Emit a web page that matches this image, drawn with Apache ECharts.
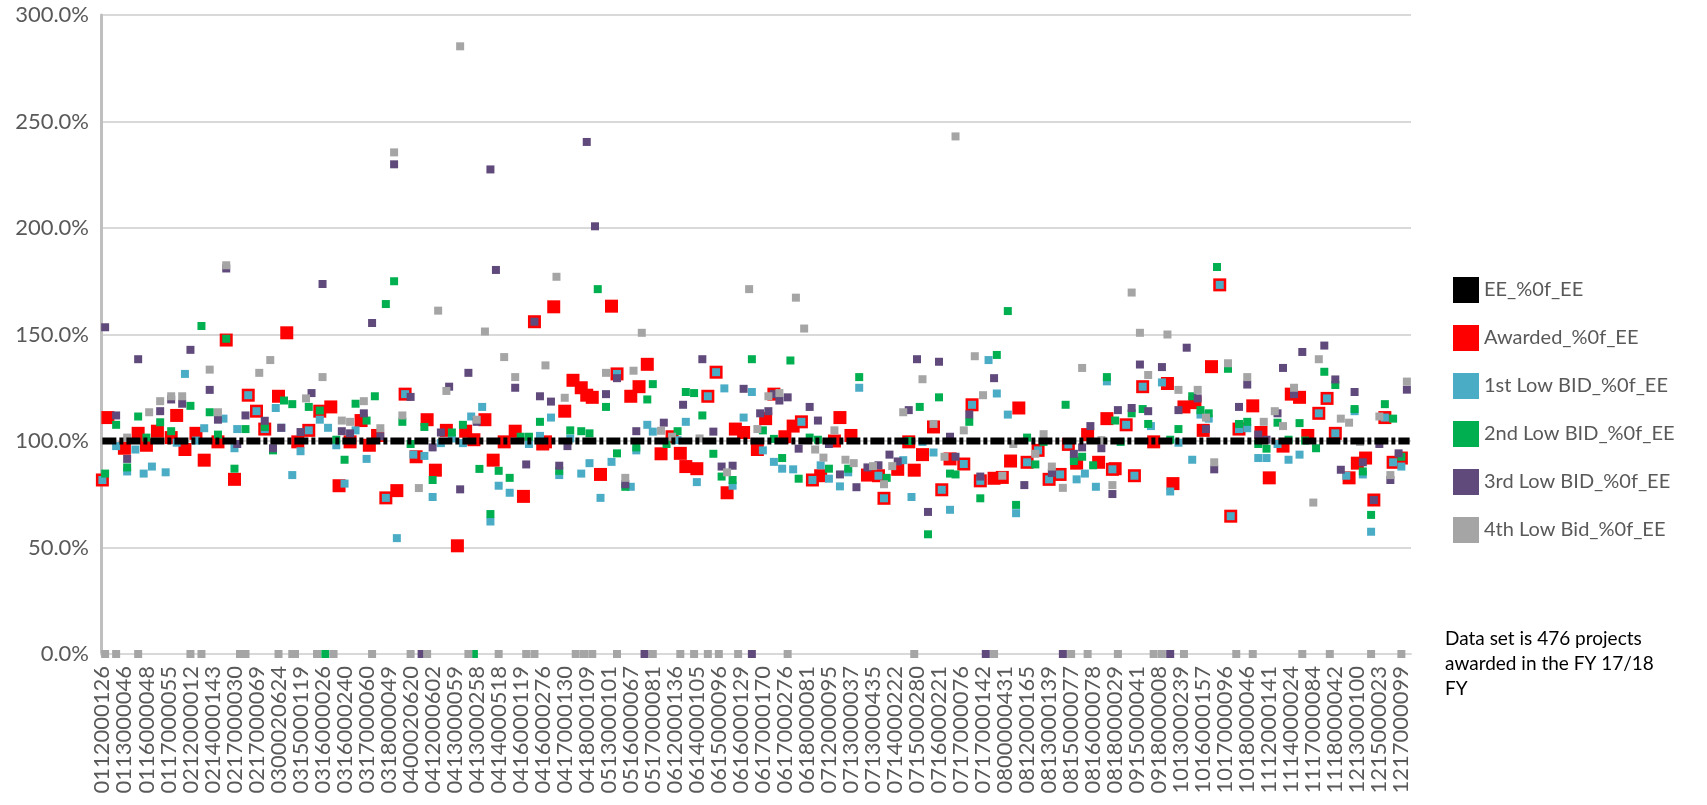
<!DOCTYPE html>
<html>
<head>
<meta charset="utf-8">
<script src="https://cdn.jsdelivr.net/npm/echarts@6/dist/echarts.min.js"></script>
<style>
  html, body { margin: 0; padding: 0; background: #fff; }
  #main { width: 1707px; height: 805px; }
</style>
</head>
<body>
<div id="main"></div>
<script>
// 476 projects, one label shown every 8th project
var projectCount = 476;
var tickLabels = [
  '0112000126', '0113000046', '0116000048', '0117000055', '0212000012', '0214000143',
  '0217000030', '0217000069', '0300020624', '0315000119', '0316000026', '0316000240',
  '0317000060', '0318000049', '0400020620', '0412000602', '0413000059', '0413000258',
  '0414000518', '0416000119', '0416000276', '0417000130', '0418000109', '0513000101',
  '0516000067', '0517000081', '0612000136', '0614000105', '0615000096', '0616000129',
  '0617000170', '0617000276', '0618000081', '0712000095', '0713000037', '0713000435',
  '0714000222', '0715000280', '0716000221', '0717000076', '0717000142', '0800000431',
  '0812000165', '0813000139', '0815000077', '0816000078', '0818000029', '0915000041',
  '0918000008', '1013000239', '1016000157', '1017000096', '1018000046', '1112000141',
  '1114000024', '1117000084', '1118000042', '1213000100', '1215000023', '1217000099'
];

// [project index, % of EE]
var awarded = [
  [0,81.7],[2,111],[8,96.6],[13,103.6],[16,98],[20,104.6],[25,101.6],[27,112],[30,96],[34,103.6],
  [37,91],[42,99.6],[45,147.4],[48,82],[53,121.5],[56,114],[59,105.6],[64,121],[67,150.8],[71,99.6],
  [75,105],[79,114],[83,116],[86,79],[90,99.6],[94,109.6],[97,98],[100,102.6],[103,73.3],[107,76.7],
  [110,122],[114,92.6],[118,110],[121,86.3],[125,105],[129,50.8],[132,104.6],[135,100.6],[139,110],[142,91],
  [146,99.6],[150,104.6],[153,74],[157,156],[160,98.6],[161,99.6],[164,163],[168,114],[171,128.5],[174,125],
  [176,121.5],[178,120.5],[181,84.3],[185,163.3],[187,131.5],[192,121],[195,125.5],[198,136],[203,94],[207,102],
  [210,94.2],[212,88],[216,87],[220,121],[223,132.3],[227,75.7],[230,105.6],[233,104],[238,96],[241,110.5],
  [244,122],[248,102],[251,107],[254,109],[258,81.7],[261,83.7],[266,100],[268,111],[272,102.6],[278,84],
  [282,83.7],[284,73.1],[289,86.7],[293,99.6],[295,86.3],[298,93.6],[302,106.6],[305,77.1],[308,91.6],[313,89.2],
  [316,117],[319,81.3],[324,82.5],[327,82.9],[330,90.6],[333,115.5],[336,90],[340,95.6],[344,82],[348,84.3],
  [351,98.4],[354,89.6],[358,103],[362,90],[365,110.5],[367,86.7],[368,87],[372,107.6],[375,83.7],[378,125.5],
  [382,99.6],[387,127],[389,80],[393,116],[397,118],[400,105],[403,134.9],[406,173.3],[410,64.7],[413,105.6],
  [418,116.5],[421,104],[424,82.7],[429,97.6],[432,122],[435,120.5],[438,102.6],[442,113],[445,120],[448,103.6],
  [453,82.7],[456,89.6],[459,92],[462,72.3],[466,111],[469,90],[472,92]
];

var lowBid1 = [
  [0,81.7],[5,97.6],[9,85.7],[12,96],[15,84.7],[18,88],[23,85.3],[27,99.2],[30,131.5],[34,100.2],
  [37,106],[44,110.5],[48,96.6],[49,105.6],[53,121.5],[56,114],[59,105.6],[63,115.5],[65,106.2],[69,84],
  [72,95.2],[75,105],[79,110],[82,106.2],[85,98],[88,80],[92,105],[96,91.6],[103,73.3],[107,54.4],
  [110,122],[113,93.6],[117,93],[120,73.7],[123,99],[127,101.2],[131,99],[134,111.5],[138,116],[141,62.2],
  [144,79],[148,75.7],[155,98.6],[159,102.4],[163,111],[166,84],[170,101.2],[174,84.7],[177,89.6],[181,73.3],
  [185,90.2],[187,131.5],[192,78.5],[194,95.6],[198,107.6],[200,104.4],[209,100.4],[212,109],[216,80.7],[220,121],
  [223,132.3],[226,124.7],[229,79],[233,111],[236,123],[240,95.6],[244,90.2],[247,87],[251,86.7],[254,109],
  [258,81.7],[261,88.6],[264,82.3],[268,78.7],[271,85.3],[275,125],[282,83.7],[284,73.1],[291,91],[294,73.7],
  [298,99.6],[302,94.6],[305,77.1],[308,67.7],[313,89.2],[316,117],[319,81.3],[322,138],[325,122.3],[329,112.4],
  [332,66.1],[336,90],[340,95.6],[344,82],[348,84.3],[351,98.4],[354,82],[357,84.7],[361,78.5],[365,128],
  [367,86.7],[372,107.6],[375,83.7],[378,125.5],[381,107],[385,127.5],[388,76.3],[391,99.2],[396,91.2],[399,112.4],
  [402,110.5],[406,173.3],[410,64.7],[413,105.6],[416,106],[420,92],[423,92],[427,98.6],[431,91.2],[435,93.6],
  [442,113],[445,120],[448,103.6],[452,83.7],[455,114],[458,84.3],[461,57.4],[466,111],[469,90],[472,88]
];

var lowBid2 = [
  [1,84.7],[5,107.6],[9,87.6],[13,111.5],[16,101.6],[21,108.8],[25,104.6],[32,116.5],[36,154],[39,113.5],
  [42,103],[45,148],[48,87],[52,105.6],[59,106.6],[62,95.6],[66,119],[69,117.3],[75,116],[79,114.3],
  [81,0],[85,100.6],[88,91.2],[92,117.5],[96,109.6],[99,121],[103,164.3],[106,175],[109,109],[112,98.6],
  [117,106.6],[120,81.7],[127,104],[131,107.6],[135,0],[137,86.9],[141,65.7],[144,86],[148,82.7],[152,102],
  [155,102],[159,109],[166,86],[170,105],[174,104.6],[177,103.6],[180,171.3],[183,116],[187,94.2],[190,78.5],
  [194,97],[198,119.5],[200,126.7],[205,98.6],[209,104.6],[212,123],[215,122.5],[218,112],[222,94],[225,83.3],
  [229,81.7],[236,138.4],[240,105],[244,101],[247,92],[250,137.8],[253,82.3],[257,101.6],[260,100.6],[264,87],
  [271,87],[275,130],[285,82.7],[293,100],[297,116],[300,56.2],[304,120.5],[308,84.7],[310,84.3],[315,109],
  [319,73.1],[325,140.4],[329,161],[332,70],[336,101.6],[339,89],[342,99.6],[350,117],[353,90.6],[356,92.6],
  [360,88.6],[365,130],[368,109.6],[370,99.6],[374,113],[378,115],[380,108],[388,100.6],[391,105.6],[396,121],
  [399,114.5],[402,113],[405,181.7],[409,133.9],[413,108],[416,109],[420,98.6],[423,96.4],[427,108.6],[431,100.6],
  [435,108.4],[437,100.2],[441,96.6],[444,132.5],[448,126.3],[455,115],[458,85.7],[461,65.3],[466,117.3],[469,110.5],
  [472,92.6]
];

var lowBid3 = [
  [1,153.4],[5,112],[9,91.6],[13,138.4],[21,114],[25,119.5],[29,117.5],[32,142.8],[39,124],[42,110],
  [45,181],[49,98.6],[52,112],[59,109.5],[62,96.6],[65,106.2],[72,104.2],[76,122.5],[80,173.7],[87,104.6],
  [90,103.6],[95,113],[98,155.4],[101,102.2],[106,229.9],[112,120.7],[116,0],[120,97],[123,104],[126,125.5],
  [130,77.3],[133,132],[136,109],[141,227.5],[143,180.3],[150,125],[154,89],[157,156],[159,121],[163,118.5],
  [166,88.4],[169,97.6],[176,240.4],[179,200.8],[183,122],[187,129.5],[190,79.7],[194,104.6],[197,0],[204,108.6],
  [211,117],[218,138.4],[222,104.4],[225,88],[229,88.4],[233,124.5],[236,0],[239,113],[242,114],[244,122],
  [246,119],[249,120.5],[253,96.4],[257,116],[260,109.6],[264,98.6],[268,84.3],[274,78.3],[278,87.6],[282,88.6],
  [286,93.6],[289,90.4],[293,114.5],[296,138.4],[300,66.7],[304,137.2],[308,102],[310,92.6],[315,112.5],[319,83.3],
  [321,0],[324,129.5],[335,79.3],[345,85],[349,0],[353,94],[356,97],[359,107],[363,96.6],[367,75.1],
  [369,114.5],[374,115.5],[377,135.9],[380,114],[385,134.7],[388,0],[391,114.5],[394,143.8],[398,120],[401,105.6],
  [404,86.7],[413,116],[416,126.5],[420,103],[423,100.6],[427,113],[429,134.3],[433,122],[436,141.8],[444,144.8],
  [448,128.9],[450,86.5],[455,123],[458,90],[462,72.3],[464,98.6],[468,81.7],[471,94.2],[474,124.1]
];

var lowBid4 = [
  [1,0],[5,0],[9,101.6],[13,0],[17,113.5],[21,118.7],[25,121],[29,121],[32,0],[36,0],
  [39,133.5],[42,113.5],[45,182.5],[50,0],[52,0],[57,132],[61,138],[64,0],[69,0],[70,0],
  [74,120],[78,0],[80,130],[84,0],[87,109.6],[90,109],[95,118.7],[98,0],[101,106],[106,235.5],
  [109,112],[112,0],[115,77.9],[118,0],[122,161.2],[125,123.5],[130,285.3],[133,0],[136,110],[139,151.4],
  [144,0],[146,139.4],[150,130],[154,0],[157,0],[161,135.5],[165,177.1],[168,120.3],[172,0],[175,0],
  [178,0],[183,132],[187,0],[190,82.7],[193,133],[196,150.8],[200,0],[203,104.8],[207,102],[210,0],
  [215,0],[217,101.2],[220,0],[224,0],[227,85.3],[231,0],[235,171.3],[238,105.6],[242,121],[246,122.5],
  [249,0],[252,167.3],[255,152.8],[259,96],[262,92.2],[266,105],[270,91.2],[273,89.6],[280,88.2],[284,79.7],
  [287,88.2],[291,113.5],[295,0],[298,129],[302,108],[306,92.6],[310,243],[313,105],[317,139.8],[320,121.5],
  [324,0],[327,83.7],[331,98.6],[339,94],[342,103.2],[345,88],[349,78],[352,0],[356,134.3],[358,0],
  [363,100.4],[367,79.3],[369,0],[374,169.7],[377,150.8],[380,131],[382,0],[385,0],[387,150],[391,124],
  [393,0],[398,124],[401,111],[404,90],[409,136.5],[412,0],[416,130],[418,0],[422,109],[426,114],
  [429,107],[433,125],[436,0],[440,71.1],[442,138.4],[446,0],[450,110.5],[453,108.6],[457,99.6],[461,0],
  [464,111.5],[468,84],[472,0],[474,127.9]
];

var seriesNames = ['EE_%0f_EE', 'Awarded_%0f_EE', '1st Low BID_%0f_EE', '2nd Low BID_%0f_EE', '3rd Low BID_%0f_EE', '4th Low Bid_%0f_EE'];
var colors = ['#000000', '#ff0000', '#4bacc6', '#00b050', '#604a7b', '#a5a5a5'];

// 横轴类目：每 8 个项目显示一个编号
var categories = [];
for (var i = 0; i < projectCount; i++) {
  categories.push(i % 8 === 0 ? tickLabels[i / 8] : '');
}
// EE 相对自身永远是 100%
var eePct = categories.map(function () { return 100; });

var textColor = '#595959';
var font = 'Lato';

function scatter(name, data, color, size) {
  return {
    name: name,
    type: 'scatter',
    symbol: 'rect',
    symbolSize: size,
    itemStyle: { color: color, opacity: 1 },
    data: data
  };
}

var chart = echarts.init(document.getElementById('main'));
chart.setOption({
  animation: false,
  grid: { left: 101, right: 296, top: 15, bottom: 151 },
  legend: {
    orient: 'vertical',
    left: 1448,
    top: 272,
    itemWidth: 26,
    itemHeight: 26,
    itemGap: 22,
    icon: 'rect',
    textStyle: { color: textColor, fontSize: 20, fontFamily: font },
    data: seriesNames
  },
  xAxis: {
    type: 'category',
    data: categories,
    boundaryGap: true,
    axisLine: { lineStyle: { color: '#d9d9d9', width: 2 } },
    axisTick: { show: false },
    axisLabel: {
      interval: 7,
      rotate: 90,
      margin: 12,
      showMinLabel: true,
      color: textColor,
      fontSize: 22,
      fontFamily: font
    },
    splitLine: { show: false }
  },
  yAxis: {
    type: 'value',
    min: 0,
    max: 300,
    interval: 50,
    axisLine: { show: true, lineStyle: { color: '#bfbfbf', width: 3 } },
    axisTick: { show: false },
    axisLabel: {
      margin: 12,
      color: textColor,
      fontSize: 22,
      fontFamily: font,
      formatter: function (v) { return v.toFixed(1) + '%'; }
    },
    splitLine: { lineStyle: { color: '#d9d9d9', width: 2 } }
  },
  graphic: [{
    type: 'text',
    left: 1445,
    top: 626,
    style: {
      text: 'Data set is 476 projects\nawarded in the FY 17/18\nFY',
      fill: '#000',
      font: '19px Lato',
      lineHeight: 25
    }
  }],
  series: [
    {
      name: seriesNames[0],
      type: 'line',
      showSymbol: false,
      symbol: 'rect',
      itemStyle: { color: colors[0] },
      lineStyle: { color: colors[0], width: 7, type: [14, 3, 4, 3] },
      data: eePct
    },
    scatter(seriesNames[1], awarded, colors[1], 13),
    scatter(seriesNames[2], lowBid1, colors[2], 8),
    scatter(seriesNames[3], lowBid2, colors[3], 8),
    scatter(seriesNames[4], lowBid3, colors[4], 8),
    scatter(seriesNames[5], lowBid4, colors[5], 8)
  ]
});
</script>
</body>
</html>
